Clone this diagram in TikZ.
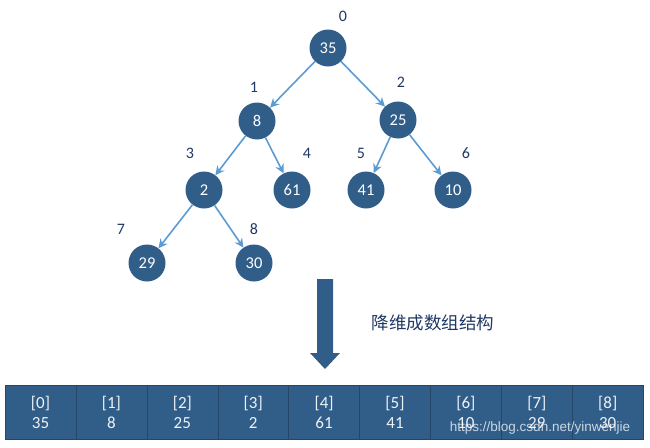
\documentclass[tikz,border=0pt]{standalone}
\usepackage{fontspec}
\setmainfont{Carlito}
\newfontfamily\cjk{Noto Sans CJK SC}
\newfontfamily\wmfont{Liberation Sans}
\usetikzlibrary{arrows.meta}
\definecolor{heapblue}{HTML}{305E89}
\definecolor{edgeblue}{HTML}{5B9BD5}
\definecolor{labelnavy}{HTML}{1F3864}
\begin{document}
\begin{tikzpicture}
[x=1pt,y=-1pt,
  nodedecorate/.style={shape=circle,minimum size=37pt,inner sep=0pt,fill=heapblue,text=white,font=\fontsize{16.5}{18}\selectfont},%
  linedecorate/.style={-{Stealth[length=9pt,width=9pt]},line width=1.6pt,draw=edgeblue},%
  indexdecorate/.style={text=labelnavy,font=\fontsize{16}{18}\selectfont},%
  celldecorate/.style={shape=rectangle,draw=heapblue!75!black,fill=heapblue,minimum height=54pt,inner sep=0pt,text=white!92!heapblue,align=center,font=\fontsize{17}{20}\selectfont}]
\useasboundingbox (0,0) rectangle (650,447);
%% nodes or vertices
\foreach \nodename/\val/\x/\y in {n0/35/328/48, n1/8/257/121, n2/25/398/120, n3/2/204/190, n4/61/292/190, n5/41/366/190, n6/10/453/190, n7/29/147/263, n8/30/254/263} {
  \node (\nodename) at (\x,\y) [nodedecorate] {\val};
}
%% index labels
\foreach \nodename/\idx/\x/\y in {i0/0/343/16, i1/1/254/87, i2/2/401/82, i3/3/190/153, i4/4/307/153, i5/5/361/153, i6/6/466/153, i7/7/121/229, i8/8/254/229} {
  \node (\nodename) at (\x,\y) [indexdecorate] {\idx};
}
%% edges or lines
\path
\foreach \startnode/\endnode in {n0/n1, n0/n2, n1/n3, n1/n4, n2/n5, n2/n6, n3/n7, n3/n8} {
  (\startnode) edge[linedecorate] node {} (\endnode)
};
%% down arrow and caption
\fill[heapblue] (317,279) -- (333,279) -- (333,353) -- (340,353) -- (325,369) -- (310,353) -- (317,353) -- cycle;
\node (caption) at (433,323) [text=labelnavy,font=\cjk\fontsize{17.5}{20}\selectfont] {降维成数组结构};
%% array cells
\foreach \i/\val in {0/35, 1/8, 2/25, 3/2, 4/61, 5/41, 6/10, 7/29, 8/30} {
  \node (c\i) at ({40.5+70.9*\i},412) [celldecorate,minimum width=70.9pt] {[\i]\\\val};
}
\node (mark) at (540,428) [text=white,opacity=0.75,font=\wmfont\fontsize{13.5}{15}\selectfont] {https://blog.csdn.net/yinwenjie};
\end{tikzpicture}
\end{document}
